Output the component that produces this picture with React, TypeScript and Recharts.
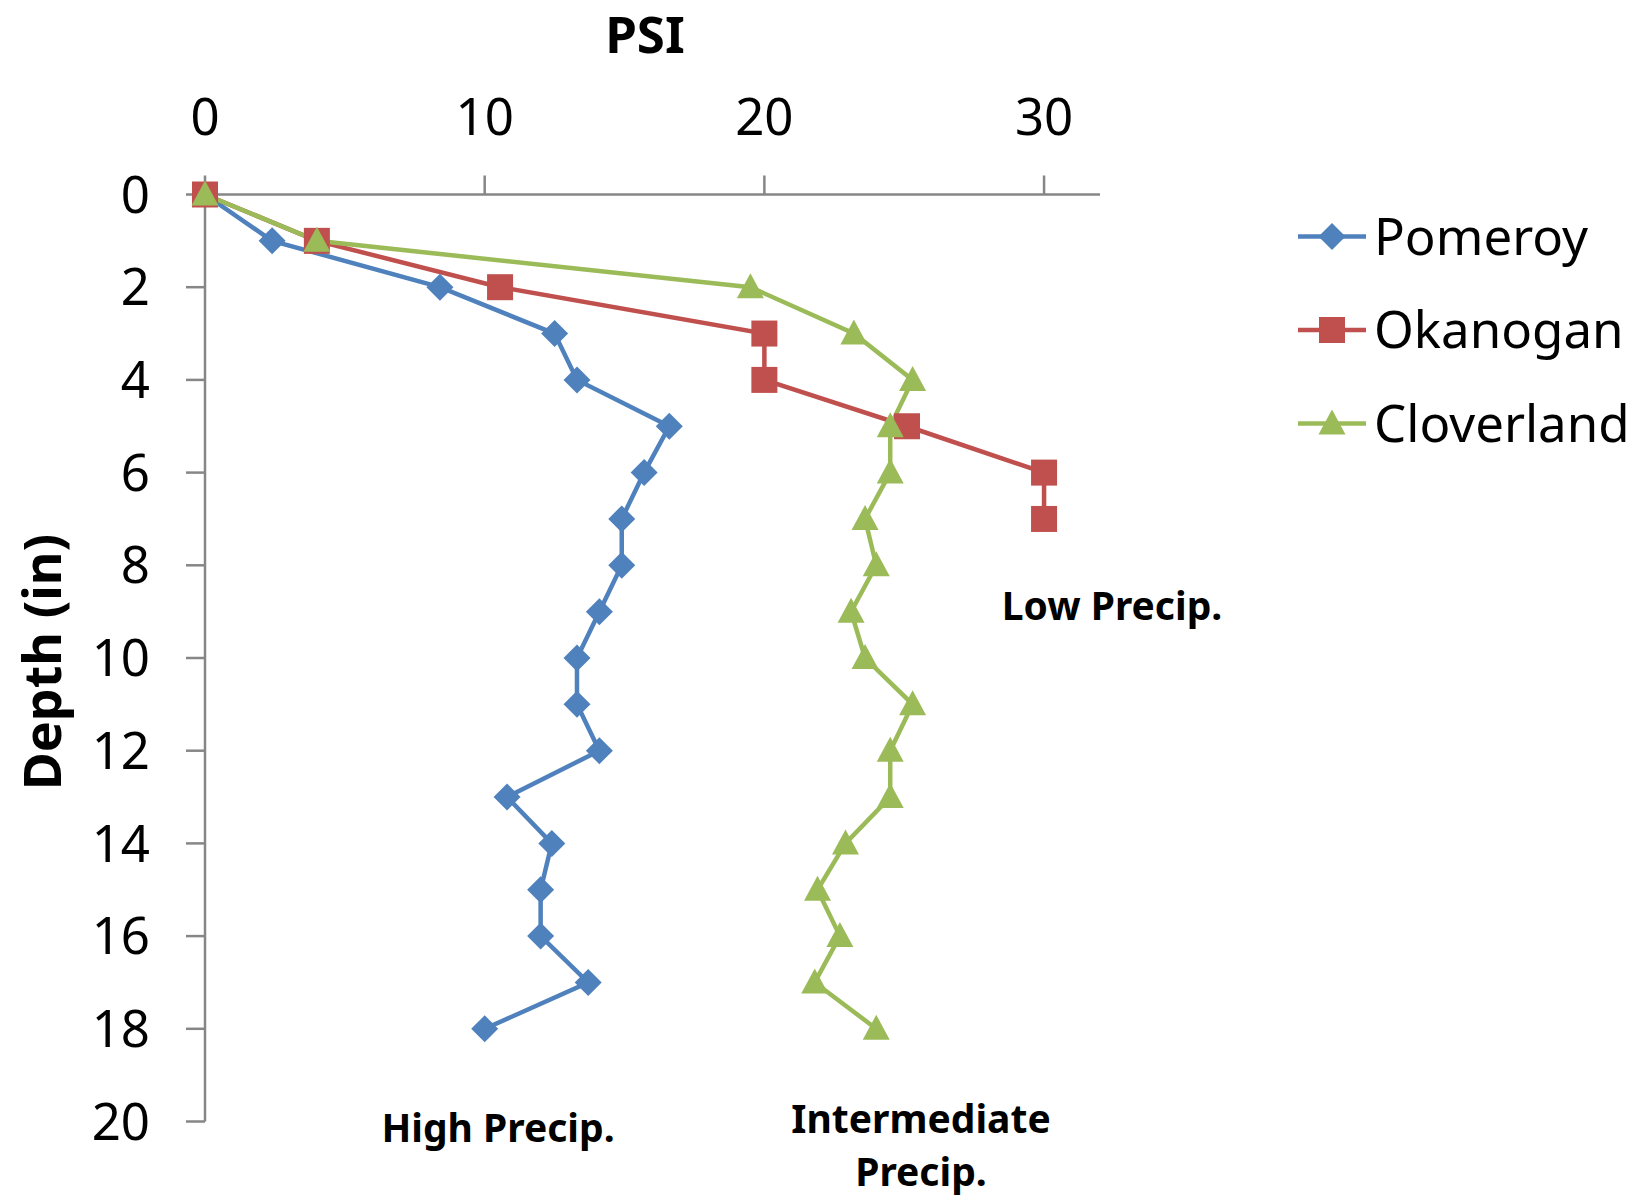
import { LineChart, Line, XAxis, YAxis, Customized } from 'recharts';

const depths = [0, 1, 2, 3, 4, 5, 6, 7, 8, 9, 10, 11, 12, 13, 14, 15, 16, 17, 18];
const pomeroy = [0, 2.4, 8.4, 12.5, 13.3, 16.6, 15.7, 14.9, 14.9, 14.1, 13.3, 13.3, 14.1, 10.8, 12.4, 12.0, 12.0, 13.7, 10.0];
const okanogan = [0, 4.0, 10.55, 20.0, 20.0, 25.1, 30.0, 30.0];
const cloverland = [0, 4.0, 19.5, 23.2, 25.3, 24.5, 24.5, 23.6, 24.0, 23.1, 23.6, 25.3, 24.5, 24.5, 22.9, 21.9, 22.7, 21.8, 24.0];
const psiTicks = [0, 10, 20, 30];
const depthTicks = [0, 2, 4, 6, 8, 10, 12, 14, 16, 18, 20];

const BLUE = '#4F81BD';
const RED = '#C0504D';
const GREEN = '#9BBB59';
const AXIS = '#868686';
const FONT = '"Noto Sans", sans-serif';

const data = depths.map((d, i) => ({
  depth: d,
  Pomeroy: pomeroy[i],
  Okanogan: okanogan[i],
  Cloverland: cloverland[i],
}));

const Diamond = ({ cx, cy, color }: any) => {
  if (cx == null || cy == null) return null;
  const r = 13.5;
  return <polygon points={`${cx},${cy - r} ${cx + r},${cy} ${cx},${cy + r} ${cx - r},${cy}`} fill={color} />;
};

const Square = ({ cx, cy, color }: any) => {
  if (cx == null || cy == null) return null;
  const s = 13;
  return <rect x={cx - s} y={cy - s} width={s * 2} height={s * 2} fill={color} />;
};

const Triangle = ({ cx, cy, color }: any) => {
  if (cx == null || cy == null) return null;
  return <polygon points={`${cx},${cy - 14} ${cx + 13.5},${cy + 11} ${cx - 13.5},${cy + 11}`} fill={color} />;
};

const series = [
  { name: 'Pomeroy', color: BLUE, Marker: Diamond },
  { name: 'Okanogan', color: RED, Marker: Square },
  { name: 'Cloverland', color: GREEN, Marker: Triangle },
];

// legend drawn in svg to the right of the plot
const LegendBox = () => (
  <g transform="translate(1290, 190)">
    {series.map((s, i) => {
      const y = 46.5 + i * 93.5;
      return (
        <g key={s.name}>
          <line x1={8} x2={76} y1={y} y2={y} stroke={s.color} strokeWidth={4.5} />
          <s.Marker cx={42} cy={y} color={s.color} />
          <text x={84} y={y + 18} fontFamily={FONT} fontSize={51} fill="#000">
            {s.name}
          </text>
        </g>
      );
    })}
  </g>
);

const Labels = () => (
  <g fontFamily={FONT} fontWeight="bold" fill="#000">
    <text x={645} y={53} textAnchor="middle" fontSize={51}>PSI</text>
    <text x={61} y={662} textAnchor="middle" fontSize={52} transform="rotate(-90, 61, 662)">Depth (in)</text>
    <text x={1112} y={620} textAnchor="middle" fontSize={39}>Low Precip.</text>
    <text x={498} y={1142} textAnchor="middle" fontSize={39}>High Precip.</text>
    <text x={921} y={1133} textAnchor="middle" fontSize={39}>Intermediate</text>
    <text x={921} y={1186} textAnchor="middle" fontSize={39}>Precip.</text>
  </g>
);

export default function App() {
  return (
    <div style={{ position: 'absolute', left: 0, top: 0, background: '#fff' }}>
      <LineChart
        width={1648}
        height={1198}
        data={data}
        layout="vertical"
        margin={{ top: 94.5, right: 548, bottom: 76.5, left: 0 }}
      >
        <XAxis
          type="number"
          orientation="top"
          domain={[0, 32]}
          ticks={psiTicks}
          height={100}
          stroke={AXIS}
          strokeWidth={2.5}
          tickSize={19}
          tickMargin={41}
          tick={{ fontFamily: FONT, fontSize: 51, fill: '#000' }}
        />
        <YAxis
          type="number"
          dataKey="depth"
          domain={[0, 20]}
          ticks={depthTicks}
          width={205}
          stroke={AXIS}
          strokeWidth={2.5}
          tickSize={19}
          tickMargin={36}
          tick={{ fontFamily: FONT, fontSize: 51, fill: '#000' }}
        />
        {series.map((s) => (
          <Line
            key={s.name}
            dataKey={s.name}
            stroke={s.color}
            strokeWidth={4.5}
            isAnimationActive={false}
            dot={(p: any) => <s.Marker key={`${s.name}-${p.index}`} cx={p.cx} cy={p.cy} color={s.color} />}
            activeDot={false}
          />
        ))}
        <Customized component={LegendBox} />
        <Customized component={Labels} />
      </LineChart>
    </div>
  );
}
